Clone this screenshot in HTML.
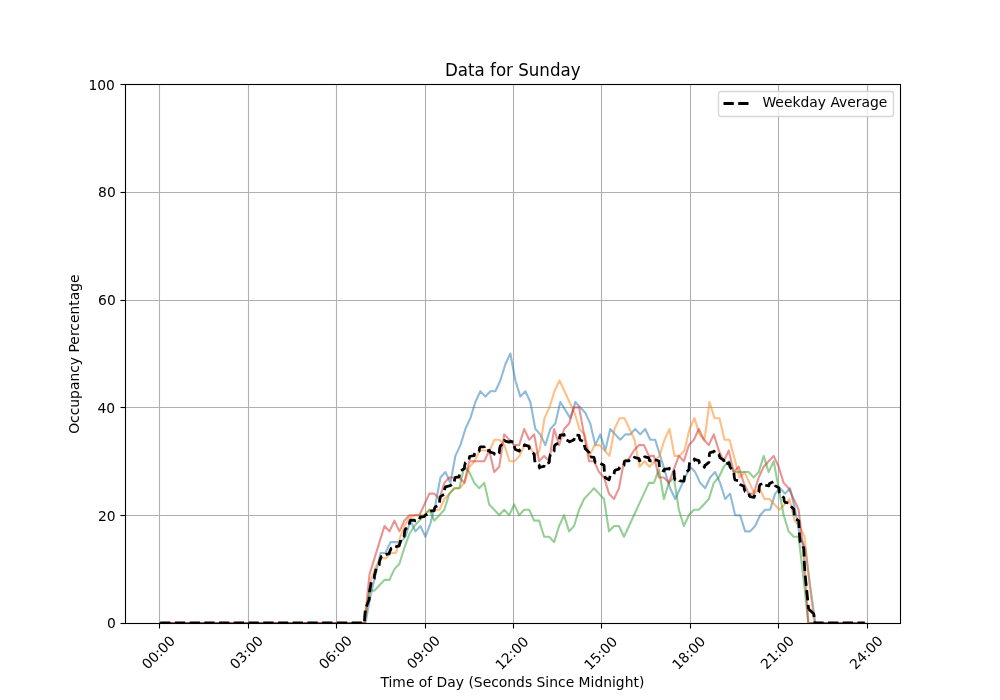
<!DOCTYPE html>
<html lang="en"><head><meta charset="utf-8"><title>Data for Sunday</title>
<style>
html,body{margin:0;padding:0;background:#fff;overflow:hidden}
svg{display:block;font-family:"DejaVu Sans","Liberation Sans",sans-serif;fill:#000}
.g line{stroke:#b0b0b0;stroke-width:1.11}
.t line,.sp{stroke:#000;stroke-width:1.11;fill:none}
.l{font-size:13.889px}
.d polyline{fill:none;stroke-width:2.083;stroke-linejoin:round;stroke-linecap:square;opacity:.5}
</style></head><body>
<svg width="1000" height="700" viewBox="0 0 1000 700">
<rect width="1000" height="700" fill="#fff"/>
<g class="g">
<line x1="159.5" y1="84.5" x2="159.5" y2="623.5"/>
<line x1="248.5" y1="84.5" x2="248.5" y2="623.5"/>
<line x1="336.5" y1="84.5" x2="336.5" y2="623.5"/>
<line x1="425.5" y1="84.5" x2="425.5" y2="623.5"/>
<line x1="513.5" y1="84.5" x2="513.5" y2="623.5"/>
<line x1="601.5" y1="84.5" x2="601.5" y2="623.5"/>
<line x1="690.5" y1="84.5" x2="690.5" y2="623.5"/>
<line x1="778.5" y1="84.5" x2="778.5" y2="623.5"/>
<line x1="867.5" y1="84.5" x2="867.5" y2="623.5"/>
<line x1="125.5" y1="623.5" x2="900.5" y2="623.5"/>
<line x1="125.5" y1="515.5" x2="900.5" y2="515.5"/>
<line x1="125.5" y1="407.5" x2="900.5" y2="407.5"/>
<line x1="125.5" y1="300.5" x2="900.5" y2="300.5"/>
<line x1="125.5" y1="192.5" x2="900.5" y2="192.5"/>
<line x1="125.5" y1="84.5" x2="900.5" y2="84.5"/>
</g>
<g class="t">
<line x1="159.5" y1="623.5" x2="159.5" y2="628.5"/>
<line x1="248.5" y1="623.5" x2="248.5" y2="628.5"/>
<line x1="336.5" y1="623.5" x2="336.5" y2="628.5"/>
<line x1="425.5" y1="623.5" x2="425.5" y2="628.5"/>
<line x1="513.5" y1="623.5" x2="513.5" y2="628.5"/>
<line x1="601.5" y1="623.5" x2="601.5" y2="628.5"/>
<line x1="690.5" y1="623.5" x2="690.5" y2="628.5"/>
<line x1="778.5" y1="623.5" x2="778.5" y2="628.5"/>
<line x1="867.5" y1="623.5" x2="867.5" y2="628.5"/>
<line x1="120.5" y1="623.5" x2="125.5" y2="623.5"/>
<line x1="120.5" y1="515.5" x2="125.5" y2="515.5"/>
<line x1="120.5" y1="407.5" x2="125.5" y2="407.5"/>
<line x1="120.5" y1="300.5" x2="125.5" y2="300.5"/>
<line x1="120.5" y1="192.5" x2="125.5" y2="192.5"/>
<line x1="120.5" y1="84.5" x2="125.5" y2="84.5"/>
</g>
<clipPath id="c"><rect x="125" y="84" width="775" height="539"/></clipPath>
<g class="d" clip-path="url(#c)">
<polyline stroke="#1f77b4" points="160.20,623.00 365.50,623.00 370.50,596.05 375.49,574.49 380.49,552.93 385.48,552.93 390.48,542.15 395.47,542.15 400.47,542.15 405.46,536.76 410.45,520.59 415.45,531.37 420.44,525.98 425.44,536.76 430.44,523.28 435.43,504.42 440.43,477.47 445.42,472.08 450.42,482.86 455.41,455.91 460.40,445.13 465.40,428.96 470.39,418.18 475.39,402.01 480.38,391.23 485.38,396.62 490.38,391.23 495.37,391.23 500.37,380.45 505.36,364.28 510.36,353.50 515.35,380.45 520.35,396.62 525.34,391.23 530.34,402.01 535.33,428.96 540.33,434.35 545.32,445.13 550.32,428.96 555.31,423.57 560.31,402.01 565.30,410.10 570.30,418.18 575.29,402.01 580.28,407.40 585.28,412.79 590.27,423.57 595.27,445.13 600.26,434.35 605.26,450.52 610.25,428.96 615.25,434.35 620.25,439.74 625.24,434.35 630.24,434.35 635.23,428.96 640.23,434.35 645.22,428.96 650.22,439.74 655.21,439.74 660.20,455.91 665.20,472.08 670.19,488.25 675.19,499.03 680.18,488.25 685.18,477.47 690.17,466.69 695.17,472.08 700.16,482.86 705.16,488.25 710.15,477.47 715.15,472.08 720.14,482.86 725.14,499.03 730.13,493.64 735.13,515.20 740.12,515.20 745.12,531.37 750.12,531.37 755.11,525.98 760.11,515.20 765.10,509.81 770.10,509.81 775.09,493.64 780.09,488.25 785.08,493.64 790.08,488.25 795.07,509.81 800.07,536.76 805.06,547.54 810.06,585.27 815.30,623.00 864.80,623.00"/>
<polyline stroke="#ff7f0e" points="160.20,623.00 364.50,623.00 371.00,579.88 376.00,566.40 381.00,558.32 386.00,558.32 391.00,552.93 396.00,552.93 400.30,536.76 404.50,525.98 409.50,517.89 414.50,515.20 419.50,515.20 424.50,515.20 429.50,509.81 434.50,509.81 439.50,509.81 444.50,499.03 449.50,493.64 454.50,488.25 459.50,488.25 464.50,482.86 469.50,466.69 474.50,461.30 479.50,450.52 484.50,450.52 489.50,450.52 494.50,439.74 499.50,439.74 504.50,445.13 509.50,461.30 514.50,461.30 519.50,455.91 524.50,445.13 529.50,445.13 534.50,455.91 539.50,450.52 544.50,418.18 549.50,407.40 554.50,391.23 559.50,380.45 564.50,391.23 569.50,402.01 574.50,412.79 579.50,428.96 584.50,434.35 589.50,455.91 594.50,445.13 599.50,445.13 604.50,450.52 609.50,455.91 614.50,428.96 619.50,418.18 624.50,418.18 629.50,428.96 634.50,439.74 639.50,466.69 644.50,461.30 649.50,466.69 654.50,461.30 659.50,455.91 664.50,439.74 669.50,428.96 674.50,455.91 679.50,455.91 684.50,450.52 689.50,428.96 694.50,418.18 699.50,434.35 704.50,439.74 709.50,402.01 714.50,418.18 719.50,418.18 724.50,439.74 729.50,439.74 734.50,458.61 739.50,477.47 744.50,472.08 749.50,482.86 754.50,493.64 759.50,488.25 764.50,499.03 769.50,499.03 774.50,504.42 779.50,509.81 784.50,504.42 789.50,499.03 794.50,520.59 799.50,525.98 804.50,536.76 809.50,582.58 814.30,623.00 861.00,623.00"/>
<polyline stroke="#2ca02c" points="160.20,623.00 364.50,623.00 369.49,590.66 374.48,590.66 379.47,585.27 384.46,579.88 389.45,579.88 394.44,569.10 399.43,563.71 404.42,547.54 409.41,534.07 414.40,525.98 419.39,520.59 424.38,515.20 429.37,509.81 434.36,520.59 439.35,515.20 444.34,509.81 449.33,493.64 454.32,488.25 459.31,488.25 464.30,466.69 469.29,472.08 474.28,482.86 479.27,488.25 484.26,482.86 489.25,504.42 494.24,509.81 499.23,515.20 504.22,509.81 509.21,515.20 514.20,504.42 519.19,515.20 524.18,509.81 529.17,509.81 534.16,520.59 539.15,520.59 544.14,536.76 549.13,536.76 554.12,542.15 559.11,525.98 564.10,515.20 569.09,531.37 574.08,525.98 579.07,509.81 584.06,499.03 589.05,493.64 594.04,488.25 599.03,493.64 604.02,499.03 609.01,531.37 614.00,525.98 618.99,525.98 623.98,536.76 628.97,525.98 633.96,515.20 638.95,504.42 643.94,493.64 648.93,482.86 653.92,482.86 658.91,469.38 663.90,499.03 668.89,482.86 673.88,477.47 678.87,509.81 683.86,525.98 688.85,515.20 693.84,509.81 698.83,509.81 703.82,504.42 708.81,499.03 713.80,482.86 718.79,477.47 723.78,466.69 728.77,461.30 733.76,472.08 738.75,472.08 743.74,472.08 748.73,472.08 753.72,477.47 758.71,472.08 763.70,455.91 768.69,472.08 773.68,461.30 778.67,488.25 783.66,515.20 788.65,531.37 793.64,536.76 798.63,536.76 803.62,579.88 808.31,623.00 861.00,623.00"/>
<polyline stroke="#d62728" points="160.20,623.00 364.50,623.00 369.49,574.49 374.48,558.32 379.47,542.15 384.46,525.98 389.45,531.37 394.44,520.59 399.43,531.37 404.42,520.59 409.41,515.20 414.40,515.20 419.39,515.20 424.38,504.42 429.37,493.64 434.36,493.64 439.35,499.03 444.34,482.86 449.33,477.47 454.32,477.47 459.31,477.47 464.30,482.86 469.29,461.30 474.28,461.30 479.27,461.30 484.26,461.30 489.25,450.52 494.24,472.08 499.23,466.69 504.22,434.35 509.21,439.74 514.20,445.13 519.19,445.13 524.18,428.96 529.17,439.74 534.16,434.35 539.15,461.30 544.14,455.91 549.13,461.30 554.12,428.96 559.11,445.13 564.10,428.96 569.09,423.57 574.08,407.40 579.07,407.40 584.06,434.35 589.05,461.30 594.04,461.30 599.03,472.08 604.02,477.47 609.01,493.64 614.00,499.03 618.99,488.25 623.98,461.30 628.97,458.61 633.96,450.52 638.95,445.13 643.94,445.13 648.93,455.91 653.92,455.91 658.91,477.47 663.90,477.47 668.89,482.86 673.88,469.38 678.87,455.91 683.86,461.30 688.85,445.13 693.84,439.74 698.83,428.96 703.82,439.74 708.81,445.13 713.80,434.35 718.79,450.52 723.78,461.30 728.77,450.52 733.76,472.08 738.75,466.69 743.74,482.86 748.73,493.64 753.72,493.64 758.71,477.47 763.70,466.69 768.69,461.30 773.68,455.91 778.67,466.69 783.66,482.86 788.65,488.25 793.64,499.03 798.63,509.81 803.62,552.93 808.31,623.00 861.00,623.00"/>
<polyline points="160.20,623.00 354.26,623.00 354.51,623.00 354.76,623.00 355.51,623.00 359.25,623.00 359.50,623.00 359.75,623.00 360.50,623.00 364.25,623.00 364.50,620.98 364.75,615.93 365.50,608.72 369.25,599.26 369.50,591.83 370.50,586.42 371.25,581.90 374.24,578.70 374.49,575.16 375.49,571.63 376.24,568.09 379.24,564.89 379.49,561.69 380.49,558.49 381.24,556.64 384.23,555.29 384.48,554.28 385.48,554.61 386.23,554.28 389.23,553.60 389.48,552.26 390.48,549.90 391.23,548.21 394.22,546.87 394.47,545.86 395.47,546.19 396.22,546.53 399.22,545.86 399.47,544.51 400.47,541.81 400.52,538.85 404.21,536.00 404.46,533.31 404.71,530.97 405.46,529.01 409.20,526.32 409.45,523.96 409.70,521.94 410.45,520.25 414.20,520.25 414.45,520.42 414.70,520.59 415.45,520.93 419.19,520.25 419.44,519.58 419.69,518.23 420.44,516.88 424.19,516.55 424.44,516.21 424.69,515.87 425.44,515.20 429.19,513.01 429.44,511.83 429.69,511.33 430.44,511.16 434.18,510.65 434.43,509.14 434.68,507.96 435.43,506.78 439.18,505.09 439.43,503.41 439.68,500.38 440.43,496.67 444.17,494.31 444.42,491.28 444.67,488.92 445.42,486.90 449.17,485.89 449.42,485.56 449.67,485.56 450.42,485.56 454.16,483.20 454.41,481.18 454.66,479.15 455.41,477.47 459.15,476.80 459.40,474.77 459.65,473.09 460.40,471.07 464.15,468.71 464.40,468.04 464.65,465.68 465.40,462.65 469.14,459.95 469.39,457.59 469.64,456.58 470.39,456.25 474.14,455.57 474.39,454.56 474.64,453.55 475.39,452.20 479.13,451.19 479.38,449.51 479.63,447.83 480.38,446.81 484.13,446.81 484.38,448.50 484.63,449.51 485.38,450.52 489.12,450.86 489.38,450.18 489.62,451.53 490.38,452.20 494.12,453.22 494.37,454.23 494.62,453.55 495.37,453.55 499.12,452.88 499.37,451.53 499.62,448.50 500.37,445.80 504.11,442.77 504.36,440.41 504.61,440.41 505.36,441.09 509.11,442.10 509.36,442.10 509.61,442.10 510.36,441.09 514.10,442.44 514.35,445.13 514.60,447.49 515.35,449.51 519.10,450.86 519.35,451.19 519.60,450.52 520.35,449.51 524.09,447.15 524.34,445.13 524.59,444.79 525.34,445.13 529.09,446.48 529.34,448.50 529.59,449.51 530.34,451.19 534.08,453.89 534.33,455.91 534.58,459.95 535.33,462.98 539.08,464.67 539.33,467.36 539.58,468.04 540.33,467.03 544.07,466.35 544.32,464.67 544.57,463.66 545.32,464.00 549.07,462.65 549.32,461.64 549.57,458.27 550.32,454.56 554.06,451.53 554.31,447.15 554.56,445.80 555.31,444.79 559.06,442.77 559.31,441.09 559.56,437.38 560.31,435.02 564.05,434.52 564.30,435.70 564.55,437.55 565.30,439.40 569.05,441.26 569.30,441.76 569.55,441.59 570.30,441.42 574.04,439.74 574.29,437.38 574.54,436.03 575.29,435.02 579.03,435.36 579.28,436.03 579.53,438.39 580.28,440.08 584.03,441.76 584.28,443.78 584.53,445.80 585.28,448.84 589.02,452.20 589.27,455.57 589.52,457.26 590.27,456.92 594.02,457.26 594.27,458.27 594.52,459.95 595.27,462.31 599.01,462.65 599.26,462.98 599.51,462.98 600.26,463.32 604.01,465.34 604.26,469.05 604.51,473.43 605.26,477.81 609.00,479.83 609.25,479.49 609.50,478.48 610.25,475.45 614.00,474.10 614.25,473.09 614.50,471.07 615.25,470.06 619.00,469.05 619.25,468.71 619.50,467.36 620.25,466.69 623.99,465.34 624.24,462.65 624.49,461.47 625.24,460.96 628.99,460.79 629.24,460.63 629.49,460.12 630.24,459.62 633.98,458.77 634.23,457.93 634.48,457.26 635.23,457.59 638.98,458.61 639.23,459.62 639.48,460.96 640.23,460.29 643.97,458.94 644.22,457.59 644.47,456.92 645.22,456.92 648.97,457.93 649.22,459.62 649.47,460.63 650.22,460.96 653.96,460.63 654.21,459.45 654.46,459.62 655.21,459.78 658.95,460.96 659.20,464.84 659.45,467.36 660.20,469.22 663.95,471.07 664.20,470.06 664.45,469.38 665.20,469.05 668.94,468.71 669.19,469.05 669.44,468.21 670.19,469.72 673.94,470.90 674.19,474.44 674.44,477.98 675.19,479.83 678.93,480.33 679.18,479.83 679.43,480.50 680.18,480.84 683.93,481.18 684.18,479.83 684.43,477.13 685.18,473.43 688.92,469.72 689.17,466.35 689.42,463.66 690.17,461.64 693.92,460.63 694.17,459.95 694.42,458.94 695.17,459.62 698.91,460.63 699.16,461.30 699.41,463.32 700.16,464.67 703.91,465.68 704.16,466.69 704.41,467.36 705.16,465.34 708.90,462.31 709.15,458.61 709.40,453.89 710.15,452.54 713.90,451.53 714.15,451.19 714.40,452.54 715.15,452.88 718.89,454.23 719.14,455.24 719.39,455.91 720.14,457.93 723.89,460.29 724.14,462.98 724.39,464.33 725.14,464.33 728.88,462.98 729.13,462.65 729.38,464.33 730.13,467.20 733.88,471.74 734.13,475.62 734.38,477.81 735.13,480.00 738.88,480.84 739.12,481.68 739.38,483.87 740.12,484.54 743.87,486.23 744.12,487.91 744.37,489.26 745.12,491.62 748.87,492.97 749.12,494.65 749.37,495.66 750.12,496.67 753.86,497.35 754.11,497.35 754.36,496.34 755.11,494.31 758.86,491.96 759.11,488.92 759.36,486.23 760.11,484.54 763.85,483.20 764.10,483.87 764.35,484.88 765.10,485.22 768.85,485.89 769.10,484.88 769.35,483.87 770.10,483.20 773.84,481.51 774.09,482.19 774.34,483.87 775.09,485.56 778.84,487.91 779.09,490.27 779.34,492.97 780.09,494.99 783.83,497.68 784.08,499.70 784.33,501.05 785.08,502.40 788.83,503.07 789.08,503.07 789.33,503.41 790.08,505.43 793.82,509.14 794.07,512.50 794.32,515.87 795.07,518.23 798.82,520.93 799.07,526.32 799.32,533.73 800.07,541.48 803.81,548.21 804.06,554.95 804.31,563.37 805.06,573.98 808.60,609.00" style="opacity:1;stroke:#000;stroke-width:2.778;stroke-dasharray:10.278 4.444;stroke-linecap:butt;stroke-linejoin:round"/>
<polyline points="808.60,609.00 813.70,613.80 814.30,618.00 814.90,623.00 864.80,623.00" style="opacity:1;stroke:#000;stroke-width:2.778;stroke-dasharray:10.278 4.444;stroke-dashoffset:0;stroke-linecap:butt;stroke-linejoin:round"/>
</g>
<rect class="sp" x="125.5" y="84.5" width="775.0" height="539.0"/>
<g class="l">
<text transform="translate(161.81,655.80) rotate(-45)" text-anchor="middle">00:00</text>
<text transform="translate(249.87,655.81) rotate(-45)" text-anchor="middle">03:00</text>
<text transform="translate(338.87,655.74) rotate(-45)" text-anchor="middle">06:00</text>
<text transform="translate(426.90,655.72) rotate(-45)" text-anchor="middle">09:00</text>
<text transform="translate(515.27,656.54) rotate(-45)" text-anchor="middle">12:00</text>
<text transform="translate(604.14,656.53) rotate(-45)" text-anchor="middle">15:00</text>
<text transform="translate(692.23,656.46) rotate(-45)" text-anchor="middle">18:00</text>
<text transform="translate(780.75,655.97) rotate(-45)" text-anchor="middle">21:00</text>
<text transform="translate(869.63,656.01) rotate(-45)" text-anchor="middle">24:00</text>
<text x="115.72" y="628.39" text-anchor="end">0</text>
<text x="115.70" y="521.34" text-anchor="end">20</text>
<text x="115.17" y="413.31" text-anchor="end">40</text>
<text x="115.78" y="305.40" text-anchor="end">60</text>
<text x="115.78" y="197.37" text-anchor="end">80</text>
<text x="114.87" y="90.36" text-anchor="end">100</text>
<text x="512.4" y="687.05" text-anchor="middle">Time of Day (Seconds Since Midnight)</text>
<text transform="translate(79.0,354.16) rotate(-90)" text-anchor="middle">Occupancy Percentage</text>
</g>
<text transform="translate(512.76,76.0) scale(1,1.07)" text-anchor="middle" font-size="16.667">Data for Sunday</text>
<rect x="718.5" y="91.5" width="175" height="25" rx="2.78" ry="2.78" fill="#fff" fill-opacity=".8" stroke="#ccc" stroke-opacity=".8" stroke-width="1.389"/>
<line x1="723.5" y1="103.5" x2="751.28" y2="103.5" stroke="#000" stroke-width="2.778" stroke-dasharray="10.278 4.444"/>
<text class="l" x="762.44" y="106.98">Weekday Average</text>
</svg>
</body></html>
